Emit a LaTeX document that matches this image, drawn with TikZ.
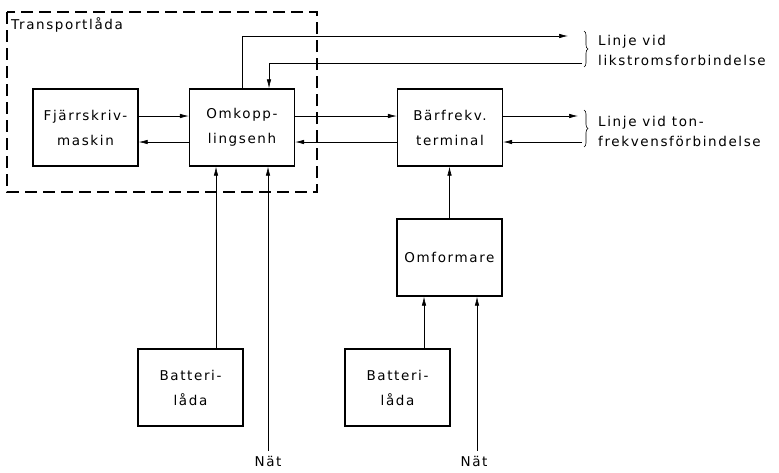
\documentclass[tikz,border=0pt]{standalone}
\usepackage{fontspec}
\setmainfont{DejaVu Sans}[LetterSpace=12]
\usepackage{tikz}
\usetikzlibrary{arrows.meta,positioning,calc,decorations.pathreplacing}

\begin{document}
\begin{tikzpicture}[
x=1pt,y=-1pt,
blk/.style={
draw,
line width=1.4pt,
minimum width=105pt,
minimum height=77pt,
inner sep=0pt,
align=center,
font=\fontsize{13.5}{25}\selectfont
},
arr/.style={
line width=0.6pt,
-{Latex[length=9pt,width=4.5pt]}
},
lbl/.style={
align=left,
anchor=west,
inner sep=0pt,
font=\fontsize{13.5}{20}\selectfont
},
brc/.style={
decorate,
decoration={brace,amplitude=4pt},
line width=0.6pt
}
]
\useasboundingbox (0,0) rectangle (779,472);

% transportlada
\draw[line width=1.4pt,dash pattern=on 12pt off 6pt] (7,12) rectangle (317,192);
\node[lbl] (transp) at (11,25) {Transportlåda};

\node[blk] (fjarr) at (85.5,127.5) {Fjärrskriv-\\maskin};
\node[blk] (omk) at (242,127.5) {Omkopp-\\lingsenh};
\node[blk] (barf) at (450,127.5) {Bärfrekv.\\terminal};
\node[blk] (omform) at (449.5,257.5) {Omformare};
\node[blk] (batt1) at (190.5,387.5) {Batteri-\\låda};
\node[blk] (batt2) at (397.5,387.5) {Batteri-\\låda};

\node[lbl,anchor=center] (nat1) at (268,461) {Nät};
\node[lbl,anchor=center] (nat2) at (474,461) {Nät};

\coordinate (lik1) at (568,36);
\coordinate (lik2) at (582,63);
\coordinate (ton1) at (578,116);
\coordinate (ton2) at (582,142);

% linjer
\draw[arr] ([yshift=11.5pt]fjarr.east) -- ([yshift=11.5pt]omk.west);
\draw[arr] ([yshift=-14.5pt]omk.west) -- ([yshift=-14.5pt]fjarr.east);
\draw[arr] ([yshift=11.5pt]omk.east) -- ([yshift=11.5pt]barf.west);
\draw[arr] ([yshift=-14.5pt]barf.west) -- ([yshift=-14.5pt]omk.east);
\draw[arr] (omk.north) |- (lik1);
\draw[arr] (lik2) -| ([xshift=27pt]omk.north);
\draw[arr] ([yshift=11.5pt]barf.east) -- (ton1);
\draw[arr] (ton2) -- ([yshift=-14.5pt]barf.east);

\draw[arr] ([xshift=25.5pt]batt1.north) coordinate (b1) -- (b1 |- omk.south);
\draw[arr] ([yshift=5pt]nat1.north) coordinate (n1) -- (n1 |- omk.south);
\draw[arr] (omform.north) -- (omform.north |- barf.south);
\draw[arr] ([xshift=26.5pt]batt2.north) coordinate (b2) -- (b2 |- omform.south);
\draw[arr] ([xshift=3pt,yshift=5pt]nat2.north) coordinate (n2) -- (n2 |- omform.south);

% klammer
\draw[brc] (584,31) -- (584,67);
\draw[brc] (584,110) -- (584,147);
\node[lbl] (lik) at (598,50) {Linje vid\\likstromsforbindelse};
\node[lbl] (ton) at (598,131) {Linje vid ton-\\frekvensförbindelse};
\end{tikzpicture}
\end{document}
